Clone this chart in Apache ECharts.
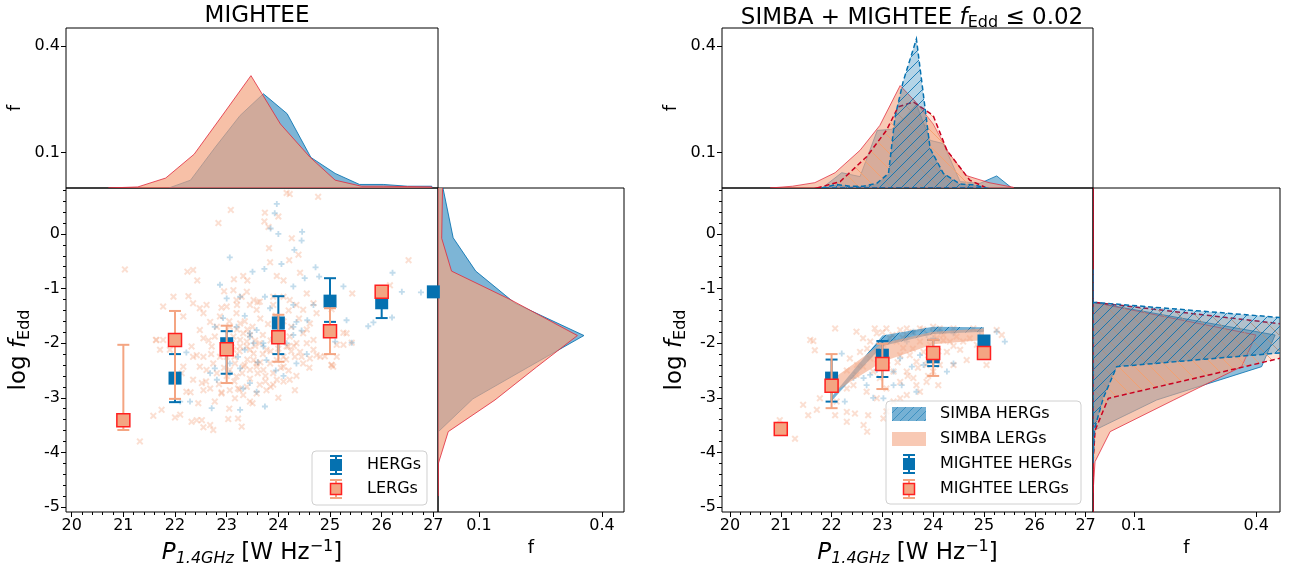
<!DOCTYPE html>
<html><head><meta charset="utf-8">
<script src="https://cdn.jsdelivr.net/npm/echarts@6/dist/echarts.min.js"></script>
<style>html,body{margin:0;padding:0;background:#fff}#c{width:1293px;height:575px}</style>
</head><body><div id="c"></div>
<script>
// ---------------- DATA ----------------
const xTicks = [20, 21, 22, 23, 24, 25, 26, 27];
const yTicks = [-5, -4, -3, -2, -1, 0];
const fTicks = [0.1, 0.4];

// Left panel (MIGHTEE) binned means with error bars
const L_hergX  = [22, 23, 24, 25, 26, 27];
const L_hergY  = [-2.64, -2.01, -1.63, -1.23, -1.26, -1.06];
const L_hergLo = [-3.08, -2.56, -2.20, -1.61, -1.54, null];
const L_hergHi = [-2.20, -1.78, -1.14, -0.81, -1.10, null];
const L_lergX  = [21, 22, 23, 24, 25, 26];
const L_lergY  = [-3.41, -1.94, -2.11, -1.89, -1.78, -1.06];
const L_lergLo = [-3.59, -3.02, -2.73, -2.34, -2.20, -1.12];
const L_lergHi = [-2.03, -1.41, -1.68, -1.48, -1.36, -0.98];

// Right panel (SIMBA + MIGHTEE fEdd<=0.02)
const R_hergX  = [22, 23, 24, 25];
const R_hergY  = [-2.64, -2.22, -2.25, -1.96];
const R_hergLo = [-3.07, -2.62, -2.42, null];
const R_hergHi = [-2.30, -1.96, -1.94, null];
const R_lergX  = [21, 22, 23, 24, 25];
const R_lergY  = [-3.57, -2.78, -2.38, -2.18, -2.18];
const R_lergLo = [null, -3.19, -2.84, -2.60, null];
const R_lergHi = [null, -2.20, -2.01, -1.94, null];

// SIMBA bands (lower / upper)
const simbaX       = [22, 23, 24, 25];
const simbaHergLo  = [-3.05, -2.05, -1.83, -1.79];
const simbaHergHi  = [-2.98, -1.86, -1.70, -1.71];
const simbaLergLo  = [-2.92, -2.34, -2.02, -1.94];
const simbaLergHi  = [-2.67, -2.00, -1.79, -1.73];

// Individual sources, left panel
const L_lergPts = [
 [24.16,0.75],[24.22,0.73],[24.77,0.68],[23.08,0.44],[22.84,0.20],[23.74,0.39],[24.0,0.32],[23.73,0.23],[23.81,0.13],[24.26,-0.08],
 [23.82,-0.26],[23.84,-0.52],[24.21,-0.48],[24.39,-0.38],[22.24,-0.69],[22.35,-0.66],[22.43,-0.85],[23.14,-0.83],[23.32,-0.77],[23.40,-0.85],
 [23.97,-0.77],[24.10,-0.85],[24.42,-0.71],[21.97,-1.15],[21.77,-1.33],[21.63,-1.94],[21.71,-2.12],[22.16,-1.51],[22.26,-1.14],[22.35,-1.27],
 [22.48,-1.36],[22.55,-1.45],[22.61,-1.30],[22.68,-1.61],[22.48,-1.76],[22.55,-1.91],[22.32,-2.06],[22.42,-2.22],[22.55,-2.25],[22.71,-2.06],
 [22.77,-1.88],[22.81,-1.70],[22.87,-1.51],[23.0,-1.33],[23.13,-1.03],[23.19,-1.21],[23.29,-1.15],[23.39,-1.06],[23.45,-1.30],[23.52,-1.21],
 [23.58,-1.39],[23.64,-1.24],[23.19,-1.45],[23.26,-1.64],[23.32,-1.82],[23.39,-1.97],[23.45,-2.12],[23.52,-2.31],[23.58,-2.43],[23.26,-2.06],
 [23.13,-1.88],[23.06,-1.70],[23.0,-2.25],[23.16,-2.37],[24.10,-1.15],[24.22,-1.21],[24.35,-1.30],[24.48,-1.39],[24.55,-1.09],[24.68,-1.27],
 [24.74,-1.45],[24.61,-1.64],[24.48,-1.82],[24.55,-2.00],[24.68,-2.12],[24.74,-2.22],[24.35,-2.00],[24.22,-1.88],[24.16,-2.06],[24.10,-2.25],
 [25.32,-1.82],[25.26,-2.03],[25.03,-2.40],[25.13,-2.25],
 [21.58,-3.33],[21.74,-3.22],[22.0,-3.36],[22.1,-3.31],[22.32,-3.44],[22.42,-3.41],[22.52,-3.41],[22.55,-3.54],[22.68,-3.50],[22.74,-3.59],
 [23.03,-3.39],[23.22,-3.38],[23.29,-3.53],[22.22,-2.89],[22.35,-2.67],[22.52,-2.73],[22.55,-2.86],[22.68,-2.83],[22.77,-3.07],[22.90,-2.92],
 [23.06,-2.86],[23.16,-3.01],[23.22,-2.83],[23.32,-2.95],[23.39,-2.80],[23.45,-3.07],[23.58,-2.92],[23.64,-2.76],[23.77,-2.86],[23.90,-2.76],
 [23.97,-2.67],[24.10,-2.70],[24.22,-2.67],[24.32,-2.86],[24.48,-2.37],[24.61,-2.28],[24.81,-2.25],[25.03,-2.40],[24.42,-2.16],[24.19,-2.06],
 [22.81,-2.55],[23.06,-2.49],[23.19,-2.61],[23.32,-2.43],[23.45,-2.49],[23.58,-2.37],[23.71,-2.49],[23.84,-2.37],[23.77,-2.12],[23.64,-2.0],
 [23.52,-2.19],[23.39,-2.06],[23.26,-1.94],[23.13,-2.12],[22.87,-2.25],[22.74,-2.37],[22.61,-2.49],[22.48,-2.43],[22.35,-2.25],[22.16,-2.43],
 [22.13,-2.55],[21.90,-2.12],[21.77,-1.94],[21.64,-1.94],[24.32,-2.25],[24.10,-2.43],[23.97,-2.31],[25.13,-2.03],[24.68,-1.94],
 [21.03,-0.65],[26.52,-0.48],[25.43,-1.09],[26.16,-0.94],[21.32,-3.80],[25.06,-2.43],[25.26,-1.81],[25.42,-1.99],[24.90,-2.24],[25.03,-1.38],
 [23.05,-1.6],[23.2,-1.75],[23.35,-1.6],[23.5,-1.7],[23.65,-1.55],[23.8,-1.65],[23.95,-1.5],[24.1,-1.6],[24.25,-1.7],[24.4,-1.55],
 [23.1,-2.0],[23.25,-2.15],[23.4,-2.3],[23.55,-2.05],[23.7,-2.2],[23.85,-1.95],[24.0,-2.1],[24.15,-2.3],[24.3,-2.05],[24.45,-2.25],
 [23.0,-2.6],[23.15,-2.7],[23.3,-2.55],[23.45,-2.65],[23.6,-2.55],[23.75,-2.7],[23.9,-2.55],[24.05,-2.45],[24.2,-2.5],[24.35,-2.6],
 [22.9,-1.35],[23.6,-1.25],[23.9,-1.3],[24.2,-1.4],[22.7,-2.2],[22.6,-2.7],[22.9,-2.9],[23.5,-3.1],[24.0,-3.0],[23.7,-1.85],[23.45,-1.85],[23.2,-1.3],[22.95,-1.05],
 [23.55,-1.95],[23.65,-2.35],[23.35,-2.4],[23.85,-2.15],[24.05,-1.85],[23.15,-2.25],[22.95,-2.45],[23.75,-2.6],[24.25,-2.15],[23.4,-1.75],
 [22.85,-2.75],[23.25,-2.85],[23.85,-2.8],[22.65,-1.95],[24.55,-1.75],[24.6,-2.45],[22.45,-3.1],[23.05,-3.2],[22.3,-2.9],[23.9,-1.15]
];
const L_hergPts = [
 [23.97,0.55],[23.93,0.38],[23.85,0.10],[24.0,-0.0],[24.46,0.04],[24.45,-0.12],[24.31,-0.29],[23.06,-0.43],[24.06,-0.55],[23.73,-0.64],
 [23.50,-0.69],[24.72,-0.61],[24.51,-0.81],[24.79,-0.78],[25.26,-0.96],[22.87,-0.93],[23.0,-1.18],[23.26,-1.15],[23.74,-1.15],[23.84,-1.36],
 [24.29,-0.96],[24.29,-1.30],[24.35,-1.61],[24.29,-1.70],[24.45,-1.77],[24.56,-1.58],[24.68,-1.30],[25.32,-1.58],[22.77,-1.70],[22.93,-1.54],
 [23.19,-1.70],[23.45,-1.88],[23.58,-1.76],[23.71,-2.0],[23.35,-2.12],[23.22,-2.25],[22.22,-2.17],[22.77,-2.46],
 [22.68,-2.55],[22.81,-2.67],[23.06,-2.37],[23.06,-2.55],[23.26,-2.46],[23.45,-2.73],[23.32,-2.83],[23.45,-1.82],[23.52,-2.0],[23.71,-2.06],
 [23.77,-2.31],[24.16,-2.0],[24.29,-1.85],[24.35,-2.37],[23.58,-2.89],[23.74,-3.16],[23.26,-3.22],[22.29,-3.07],[22.1,-3.07],[22.71,-3.19],
 [25.1,-1.97],[26.21,-0.71],[26.39,-1.06],[26.76,-1.07],[26.2,-1.53],[25.84,-1.62],[25.74,-1.69],[25.42,-1.99],
 [23.9,-1.9],[24.05,-1.75],[23.6,-2.35],[23.95,-2.5],[24.1,-2.6],[22.95,-2.05],[23.35,-1.5],[24.55,-2.2]
];

// Individual sources, right panel
const R_lergPts = [
 [22.07,-1.73],[21.58,-1.94],[21.64,-1.96],[21.67,-2.13],[20.98,-3.41],[21.28,-3.75],[21.54,-3.32],[21.71,-3.22],[22.07,-3.32],[22.30,-3.44],
 [22.46,-3.29],[22.63,-3.50],[22.70,-3.62],[23.02,-3.38],[22.49,-1.79],[22.62,-1.91],[22.85,-1.73],[22.89,-1.82],[23.08,-1.73],[23.35,-1.76],
 [23.48,-1.73],[23.74,-1.73],[24.00,-1.70],[24.13,-1.73],[24.40,-1.73],[24.79,-1.73],[25.25,-1.76],[25.35,-1.85],[25.05,-2.40],[24.66,-2.31],
 [24.40,-2.40],[24.27,-2.16],[24.53,-2.12],[24.13,-2.40],[24.00,-2.52],[23.87,-2.71],[23.74,-2.89],[23.48,-2.95],[23.22,-3.07],[23.08,-3.25],
 [22.89,-3.01],[22.69,-2.89],[22.43,-2.77],[22.30,-2.83],[22.49,-2.58],[22.62,-2.43],[22.76,-2.28],[22.89,-2.16],[23.02,-2.03],[23.15,-1.91],
 [23.28,-1.97],[23.41,-2.09],[23.54,-2.22],[23.67,-2.34],[23.81,-2.16],[23.94,-2.03],[24.07,-1.91],[24.20,-1.85],[24.33,-1.97],[24.46,-1.88],
 [24.59,-1.97],[24.72,-1.91],[24.86,-2.03],[23.22,-2.52],[23.35,-2.71],[23.48,-2.52],[23.61,-2.64],[23.08,-2.83],[22.95,-2.64],[22.82,-2.52],
 [23.08,-2.28],[23.35,-2.22],[23.87,-2.40],[24.07,-2.28],[23.74,-1.97],[23.48,-1.85],[22.76,-1.97],[22.56,-2.16],[22.36,-2.28],[21.97,-2.77],
 [22.10,-3.07],[21.77,-3.01],[21.44,-3.13],[23.35,-3.01],[23.67,-2.77],[24.10,-2.77],[22.72,-3.32],[22.30,-3.26],
 [23.0,-1.8],[23.2,-1.85],[23.4,-1.9],[23.6,-1.8],[23.8,-1.75],[24.0,-1.8],[24.2,-1.95],[24.4,-2.05],[23.1,-2.4],[23.3,-2.35],
 [23.5,-2.6],[23.7,-2.45],[23.9,-2.3],[24.1,-2.15],[22.9,-2.3],[22.7,-2.1],[22.5,-2.4],[22.3,-2.5],[23.6,-2.1],[23.9,-2.6]
];
const R_hergPts = [
 [22.20,-2.19],[22.26,-3.07],[22.63,-2.64],[22.76,-2.58],[22.89,-2.49],[23.22,-2.52],[23.38,-2.77],[23.74,-2.22],[23.81,-2.40],[24.40,-2.37],
 [24.00,-1.91],[25.25,-1.79],[25.41,-1.97],[24.92,-1.79],[23.12,-1.97],[23.02,-3.01],[22.82,-3.00],[23.48,-1.97],[23.61,-1.79],[23.87,-1.85],
 [24.13,-1.79],[24.40,-1.82],[23.35,-2.28],[23.58,-2.43],[24.07,-2.22],[24.27,-2.52],[23.22,-2.77],[22.69,-2.77],[22.43,-2.64],[23.67,-2.89]
];

// Marginal histograms: [logP, f] (top) and [f, log fEdd] (side)
const L_topHerg = [[21.88,0],[22.30,0.022],[22.78,0.115],[23.26,0.204],[23.71,0.265],[24.17,0.209],[24.63,0.086],[25.10,0.041],[25.57,0.010],[26.03,0.010],[26.50,0.005],[26.97,0.005]];
const L_topLerg = [[20.71,0],[21.28,0.003],[21.82,0.028],[22.37,0.095],[22.92,0.205],[23.47,0.316],[24.04,0.18],[24.61,0.087],[25.10,0.022],[25.61,0.005],[26.03,0.005],[26.50,0.004],[26.97,0.003]];
const L_sideHerg = [[0.015,1.2],[0.013,0.81],[0.037,-0.07],[0.092,-0.68],[0.188,-1.27],[0.356,-1.86],[0.22,-2.44],[0.085,-3.02],[0.001,-3.62],[0,-4.2]];
const L_sideLerg = [[0.010,1.2],[0.011,0.81],[0.009,-0.08],[0.033,-0.68],[0.176,-1.2],[0.34,-1.86],[0.24,-2.44],[0.139,-3.04],[0.025,-3.62],[0.001,-4.2],[0,-4.8]];

const R_topMHerg = [[21.84,0.003],[22.20,0.043],[22.56,0.032],[22.90,0.162],[23.18,0.165],[23.45,0.20],[23.67,0.235],[23.94,0.134],[24.20,0.125],[24.53,0.018],[24.92,0.013],[25.25,0.034],[25.55,0]];
const R_topMLerg = [[20.79,0],[21.23,0.005],[21.67,0.015],[22.07,0.043],[22.56,0.106],[22.95,0.176],[23.35,0.288],[23.67,0.24],[24.0,0.18],[24.3,0.10],[24.65,0.035],[25.1,0.015],[25.58,0.002]];
const R_topSLerg = [[21.71,0],[22.17,0.018],[22.69,0.088],[23.08,0.162],[23.31,0.228],[23.61,0.242],[24.0,0.204],[24.27,0.106],[24.72,0.022],[25.02,0.002]];
const R_topSHerg = [[21.80,0],[22.10,0.010],[22.36,0.005],[22.62,0.005],[22.89,0.013],[23.12,0.041],[23.25,0.20],[23.41,0.30],[23.67,0.419],[23.94,0.111],[24.20,0.041],[24.53,0.011],[24.79,0.009],[25.05,0]];
const R_sideMHerg = [[0,-1.25],[0.446,-1.85],[0.413,-2.43],[0.156,-3.04],[0.005,-3.59],[0,-4.2]];
const R_sideMLerg = [[0,-1.25],[0.399,-1.85],[0.364,-2.43],[0.198,-3.04],[0.042,-3.62],[0.005,-4.17],[0,-4.75]];
const R_sideSLerg = [[0,0.9],[0,-1.25],[0.70,-1.85],[0.36,-2.45],[0.0375,-3.01],[0.005,-3.6],[0,-4.2],[0,-5.2]];
const R_sideSHerg = [[0,-0.65],[0,-1.25],[0.98,-1.85],[0.058,-2.43],[0.025,-3.01],[0.003,-3.59],[0,-4.2]];

// ---------------- STYLE ----------------
const FF = 'DejaVu Sans';
const BLUE = '#0571b0', SALMON = '#f4a582', RED = '#ca0020';
const LX = [19.89, 27.09], RX = [19.843, 27.146], YR = [-5.092, 0.842];
const FT = [0, 0.45], LF = [0, 0.4537], RF = [0, 0.458];

const minorX = [], minorY = [];
for (let k = 0; k <= 35; k++) minorX.push(+(20 + k * 0.2).toFixed(1));
for (let k = 0; k <= 29; k++) minorY.push(+(-5 + k * 0.2).toFixed(1));

function hatch(color, s, dir, lw) {
  const c = document.createElement('canvas'); c.width = s; c.height = s;
  const g = c.getContext('2d'); g.strokeStyle = color; g.lineWidth = lw; g.beginPath();
  if (dir === '/') { g.moveTo(0, s); g.lineTo(s, 0); g.moveTo(-s/2, s/2); g.lineTo(s/2, -s/2); g.moveTo(s/2, 1.5*s); g.lineTo(1.5*s, s/2); }
  else { g.moveTo(0, 0); g.lineTo(s, s); g.moveTo(-s/2, s/2); g.lineTo(s/2, 1.5*s); g.moveTo(s/2, -s/2); g.lineTo(1.5*s, s/2); }
  g.stroke();
  return { image: c, repeat: 'repeat' };
}
const hatchBlue = hatch('rgba(5,113,176,0.85)', 11, '/', 1);
const hatchOrange = hatch('rgba(245,160,110,0.9)', 16, '\\', 1);

function icon(draw) {
  const c = document.createElement('canvas'); c.width = 43; c.height = 22;
  draw(c.getContext('2d')); return 'image://' + c.toDataURL();
}
function errIcon(bar, fill, edge) {
  return icon(g => {
    g.strokeStyle = bar; g.lineWidth = 2; g.beginPath();
    g.moveTo(17, 2); g.lineTo(17, 20); g.moveTo(11, 2); g.lineTo(23, 2); g.moveTo(11, 20); g.lineTo(23, 20); g.stroke();
    g.fillStyle = fill; g.fillRect(11, 5, 12, 12);
    if (edge) { g.strokeStyle = edge; g.lineWidth = 1.5; g.strokeRect(11.5, 5.5, 11, 11); }
  });
}
const iconHerg = errIcon(BLUE, BLUE, null);
const iconLerg = errIcon(SALMON, SALMON, '#ff2020');
const iconSHerg = icon(g => {
  g.fillStyle = 'rgba(5,113,176,0.55)'; g.fillRect(0, 4, 34, 14);
  g.save(); g.beginPath(); g.rect(0, 4, 34, 14); g.clip();
  g.strokeStyle = 'rgba(5,113,176,0.5)'; g.lineWidth = 1; g.beginPath();
  for (let k = -20; k < 60; k += 8) { g.moveTo(k, 22); g.lineTo(k + 18, 4); }
  g.stroke(); g.restore();
});
const iconSLerg = icon(g => { g.fillStyle = 'rgba(244,165,130,0.6)'; g.fillRect(0, 4, 34, 14); });

const Xmark = 'path://M0,2 L2,0 L5,3 L8,0 L10,2 L7,5 L10,8 L8,10 L5,7 L2,10 L0,8 L3,5 Z';
const Pmark = 'path://M3.5,0 H6.5 V3.5 H10 V6.5 H6.5 V10 H3.5 V6.5 H0 V3.5 H3.5 Z';

// ---------------- SERIES BUILDERS ----------------
function clipOf(params) { const c = params.coordSys; return { type: 'rect', shape: { x: c.x, y: c.y, width: c.width, height: c.height } }; }

function histSeries(pts, orient, xi, yi, st, z) {
  return {
    type: 'custom', xAxisIndex: xi, yAxisIndex: yi, z: z, silent: true,
    data: pts, encode: { x: 0, y: 1 },
    renderItem: function (params, api) {
      if (params.dataIndex !== 0) return null;
      const coords = pts.map(p => api.coord(p));
      const n = pts.length;
      const poly = orient === 'v'
        ? coords.concat([api.coord([pts[n-1][0], 0]), api.coord([pts[0][0], 0])])
        : coords.concat([api.coord([0, pts[n-1][1]]), api.coord([0, pts[0][1]])]);
      const ch = [{ type: 'polygon', shape: { points: poly }, style: { fill: st.fill, stroke: null } }];
      if (st.hatch) ch.push({ type: 'polygon', shape: { points: poly }, style: { fill: st.hatch, stroke: null } });
      ch.push({ type: 'polygon', shape: { points: poly }, style: { fill: null, stroke: st.stroke, lineWidth: st.lw || 1, lineDash: st.dash || null } });
      return { type: 'group', children: ch, clipPath: clipOf(params) };
    }
  };
}

function bandSeries(name, xs, lo, hi, xi, yi, st, z) {
  const pts = xs.map((x, i) => [x, lo[i], hi[i]]);
  return {
    type: 'custom', name: name, xAxisIndex: xi, yAxisIndex: yi, z: z, silent: true,
    data: pts, encode: { x: 0, y: [1, 2] },
    renderItem: function (params, api) {
      if (params.dataIndex !== 0) return null;
      const up = pts.map(p => api.coord([p[0], p[2]]));
      const dn = pts.map(p => api.coord([p[0], p[1]])).reverse();
      const poly = up.concat(dn);
      const ch = [{ type: 'polygon', shape: { points: poly }, style: { fill: st.fill, stroke: null } }];
      if (st.hatch) ch.push({ type: 'polygon', shape: { points: poly }, style: { fill: st.hatch, stroke: null } });
      return { type: 'group', children: ch, clipPath: clipOf(params) };
    }
  };
}

function errSeries(xs, lo, hi, color, xi, yi, z) {
  const d = [];
  xs.forEach((x, i) => { if (lo[i] !== null && hi[i] !== null) d.push([x, lo[i], hi[i]]); });
  return {
    type: 'custom', xAxisIndex: xi, yAxisIndex: yi, z: z, silent: true,
    data: d, encode: { x: 0, y: [1, 2] },
    renderItem: function (params, api) {
      const x = api.value(0);
      const a = api.coord([x, api.value(2)]), b = api.coord([x, api.value(1)]);
      const w = 6, s = { stroke: color, lineWidth: 2 };
      return { type: 'group', children: [
        { type: 'line', shape: { x1: a[0], y1: a[1], x2: b[0], y2: b[1] }, style: s },
        { type: 'line', shape: { x1: a[0]-w, y1: a[1], x2: a[0]+w, y2: a[1] }, style: s },
        { type: 'line', shape: { x1: b[0]-w, y1: b[1], x2: b[0]+w, y2: b[1] }, style: s }
      ]};
    }
  };
}

function meanSeries(name, xs, ys, xi, yi, lerg, z) {
  return {
    type: 'scatter', name: name, xAxisIndex: xi, yAxisIndex: yi, z: z, symbol: 'rect', symbolSize: 13,
    data: xs.map((x, i) => [x, ys[i]]),
    itemStyle: lerg ? { color: SALMON, borderColor: '#ff2020', borderWidth: 1.5, opacity: 1 } : { color: BLUE, opacity: 1 }
  };
}

function cloudSeries(pts, lerg, xi, yi) {
  return {
    type: 'scatter', xAxisIndex: xi, yAxisIndex: yi, z: 2, silent: true,
    symbol: lerg ? Xmark : Pmark, symbolSize: lerg ? 7 : 6, data: pts,
    itemStyle: { color: lerg ? 'rgba(244,165,130,0.45)' : 'rgba(5,113,176,0.3)' }
  };
}

// ---------------- AXES ----------------
const tickLbl = { fontFamily: FF, fontSize: 16, color: '#000' };
const rich = {
  i: { fontFamily: FF, fontSize: 23, fontStyle: 'italic', color: '#000' },
  n: { fontFamily: FF, fontSize: 23, color: '#000' },
  si: { fontFamily: FF, fontSize: 16, fontStyle: 'italic', color: '#000', padding: [12, 0, 0, 0] },
  s: { fontFamily: FF, fontSize: 16, color: '#000', padding: [12, 0, 0, 0] },
  p: { fontFamily: FF, fontSize: 16, color: '#000', padding: [0, 0, 12, 0] }
};
const noLine = { show: false, onZero: false };
function mainX(g, r) {
  return { gridIndex: g, type: 'value', min: r[0], max: r[1], position: 'bottom',
    axisLine: noLine, splitLine: { show: false },
    axisTick: { show: true, length: 5, customValues: xTicks, lineStyle: { color: '#000' } },
    axisLabel: { customValues: xTicks, margin: 6, ...tickLbl },
    name: '{i|P}{si|1.4GHz}{n| [W Hz}{p|−1}{n|]}', nameLocation: 'middle', nameGap: 27,
    nameTextStyle: { rich: rich } };
}
function minorXAx(g, r) {
  return { gridIndex: g, type: 'value', min: r[0], max: r[1], position: 'bottom',
    axisLine: noLine, splitLine: { show: false }, axisLabel: { show: false },
    axisTick: { show: true, length: 3, customValues: minorX, lineStyle: { color: '#000' } } };
}
function hiddenAx(g, r, pos) {
  return { gridIndex: g, type: 'value', min: r[0], max: r[1], position: pos, show: false, axisLine: noLine, splitLine: { show: false } };
}
function fX(g, r) {
  return { gridIndex: g, type: 'value', min: r[0], max: r[1], position: 'bottom',
    axisLine: noLine, splitLine: { show: false },
    axisTick: { show: true, length: 5, customValues: fTicks, lineStyle: { color: '#000' } },
    axisLabel: { customValues: fTicks, margin: 6, ...tickLbl },
    name: 'f', nameLocation: 'middle', nameGap: 27, nameTextStyle: { fontFamily: FF, fontSize: 18, color: '#000' } };
}
function mainY(g) {
  return { gridIndex: g, type: 'value', min: YR[0], max: YR[1], position: 'left',
    axisLine: noLine, splitLine: { show: false },
    axisTick: { show: true, length: 5, customValues: yTicks, lineStyle: { color: '#000' } },
    axisLabel: { customValues: yTicks, margin: 6, ...tickLbl },
    name: '{n|log }{i|f}{s|Edd}', nameLocation: 'middle', nameGap: 33, nameRotate: 90,
    nameTextStyle: { rich: rich } };
}
function minorYAx(g) {
  return { gridIndex: g, type: 'value', min: YR[0], max: YR[1], position: 'left',
    axisLine: noLine, splitLine: { show: false }, axisLabel: { show: false },
    axisTick: { show: true, length: 3, customValues: minorY, lineStyle: { color: '#000' } } };
}
function fY(g) {
  return { gridIndex: g, type: 'value', min: FT[0], max: FT[1], position: 'left',
    axisLine: noLine, splitLine: { show: false },
    axisTick: { show: true, length: 5, customValues: fTicks, lineStyle: { color: '#000' } },
    axisLabel: { customValues: fTicks, margin: 6, ...tickLbl },
    name: 'f', nameLocation: 'middle', nameGap: 42, nameRotate: 90, nameTextStyle: { fontFamily: FF, fontSize: 18, color: '#000' } };
}

const gridBase = { show: true, borderColor: '#000', borderWidth: 1, backgroundColor: 'transparent', containLabel: false };
const option = {
  animation: false,
  backgroundColor: '#fff',
  title: [
    { text: 'MIGHTEE', left: 252, top: 0, textAlign: 'center', textStyle: { fontFamily: FF, fontSize: 23, fontWeight: 'normal', color: '#000' } },
    { text: 'SIMBA + MIGHTEE {i|f}{s|Edd} ≤ 0.02', left: 907, top: 0, textAlign: 'center',
      textStyle: { fontFamily: FF, fontSize: 23, fontWeight: 'normal', color: '#000',
        rich: { i: { fontFamily: FF, fontSize: 23, fontStyle: 'italic', color: '#000' },
                s: { fontFamily: FF, fontSize: 16, color: '#000', padding: [10, 0, 0, 0] } } } }
  ],
  grid: [
    { ...gridBase, left: 66, top: 188, width: 372, height: 324 },
    { ...gridBase, left: 66, top: 28, width: 372, height: 160 },
    { ...gridBase, left: 438, top: 188, width: 186, height: 324 },
    { ...gridBase, left: 722, top: 188, width: 371, height: 324 },
    { ...gridBase, left: 722, top: 28, width: 371, height: 160 },
    { ...gridBase, left: 1093, top: 188, width: 187, height: 324 }
  ],
  xAxis: [ mainX(0, LX), minorXAx(0, LX), hiddenAx(1, LX, 'bottom'), fX(2, LF),
           mainX(3, RX), minorXAx(3, RX), hiddenAx(4, RX, 'bottom'), fX(5, RF) ],
  yAxis: [ mainY(0), minorYAx(0), fY(1), hiddenAx(2, YR, 'left'),
           mainY(3), minorYAx(3), fY(4), hiddenAx(5, YR, 'left') ],
  legend: [
    { data: [{ name: 'HERGs', icon: iconHerg }, { name: 'LERGs', icon: iconLerg }],
      orient: 'vertical', left: 312, top: 451, itemWidth: 43, itemHeight: 22, itemGap: 2, padding: [3, 6, 5, 7],
      backgroundColor: 'rgba(255,255,255,0.8)', borderColor: '#d0d0d0', borderWidth: 1, borderRadius: 4,
      textStyle: { fontFamily: FF, fontSize: 16, color: '#000' }, selectedMode: false },
    { data: [{ name: 'SIMBA HERGs', icon: iconSHerg }, { name: 'SIMBA LERGs', icon: iconSLerg },
             { name: 'MIGHTEE HERGs', icon: iconHerg }, { name: 'MIGHTEE LERGs', icon: iconLerg }],
      orient: 'vertical', left: 886, top: 401, itemWidth: 43, itemHeight: 22, itemGap: 3, padding: [2, 9, 4, 6],
      backgroundColor: 'rgba(255,255,255,0.8)', borderColor: '#d0d0d0', borderWidth: 1, borderRadius: 4,
      textStyle: { fontFamily: FF, fontSize: 16, color: '#000' }, selectedMode: false }
  ],
  series: [
    // left main
    cloudSeries(L_lergPts, true, 0, 0),
    cloudSeries(L_hergPts, false, 0, 0),
    errSeries(L_hergX, L_hergLo, L_hergHi, BLUE, 0, 0, 4),
    meanSeries('HERGs', L_hergX, L_hergY, 0, 0, false, 5),
    errSeries(L_lergX, L_lergLo, L_lergHi, SALMON, 0, 0, 6),
    meanSeries('LERGs', L_lergX, L_lergY, 0, 0, true, 7),
    // left top hist
    histSeries(L_topHerg, 'v', 2, 2, { fill: 'rgba(5,113,176,0.52)', stroke: 'rgba(5,113,176,0.85)' }, 2),
    histSeries(L_topLerg, 'v', 2, 2, { fill: 'rgba(244,165,130,0.7)', stroke: 'rgba(225,40,60,0.8)' }, 3),
    // left side hist
    histSeries(L_sideHerg, 'h', 3, 3, { fill: 'rgba(5,113,176,0.52)', stroke: 'rgba(5,113,176,0.85)' }, 2),
    histSeries(L_sideLerg, 'h', 3, 3, { fill: 'rgba(244,165,130,0.7)', stroke: 'rgba(225,40,60,0.8)' }, 3),
    // right main
    cloudSeries(R_lergPts, true, 4, 4),
    cloudSeries(R_hergPts, false, 4, 4),
    bandSeries('SIMBA HERGs', simbaX, simbaHergLo, simbaHergHi, 4, 4, { fill: 'rgba(5,113,176,0.55)', hatch: hatchBlue }, 3),
    bandSeries('SIMBA LERGs', simbaX, simbaLergLo, simbaLergHi, 4, 4, { fill: 'rgba(244,165,130,0.6)' }, 3),
    errSeries(R_hergX, R_hergLo, R_hergHi, BLUE, 4, 4, 4),
    meanSeries('MIGHTEE HERGs', R_hergX, R_hergY, 4, 4, false, 5),
    errSeries(R_lergX, R_lergLo, R_lergHi, SALMON, 4, 4, 6),
    meanSeries('MIGHTEE LERGs', R_lergX, R_lergY, 4, 4, true, 7),
    // right top hist
    histSeries(R_topMHerg, 'v', 6, 6, { fill: 'rgba(5,113,176,0.45)', stroke: 'rgba(5,113,176,0.8)' }, 2),
    histSeries(R_topMLerg, 'v', 6, 6, { fill: 'rgba(244,165,130,0.6)', stroke: 'rgba(225,40,60,0.75)' }, 3),
    histSeries(R_topSLerg, 'v', 6, 6, { fill: 'rgba(244,165,130,0.3)', hatch: hatchOrange, stroke: RED, lw: 1.5, dash: [5, 3] }, 4),
    histSeries(R_topSHerg, 'v', 6, 6, { fill: 'rgba(5,113,176,0.3)', hatch: hatchBlue, stroke: BLUE, lw: 1.5, dash: [5, 3] }, 5),
    // right side hist
    histSeries(R_sideMHerg, 'h', 7, 7, { fill: 'rgba(5,113,176,0.45)', stroke: 'rgba(5,113,176,0.8)' }, 2),
    histSeries(R_sideMLerg, 'h', 7, 7, { fill: 'rgba(244,165,130,0.6)', stroke: 'rgba(225,40,60,0.75)' }, 3),
    histSeries(R_sideSLerg, 'h', 7, 7, { fill: 'rgba(244,165,130,0.3)', hatch: hatchOrange, stroke: RED, lw: 1.5, dash: [5, 3] }, 4),
    histSeries(R_sideSHerg, 'h', 7, 7, { fill: 'rgba(5,113,176,0.3)', hatch: hatchBlue, stroke: BLUE, lw: 1.5, dash: [5, 3] }, 5)
  ]
};

const chart = echarts.init(document.getElementById('c'), null, { renderer: 'canvas' });
chart.setOption(option);
</script>
</body></html>
